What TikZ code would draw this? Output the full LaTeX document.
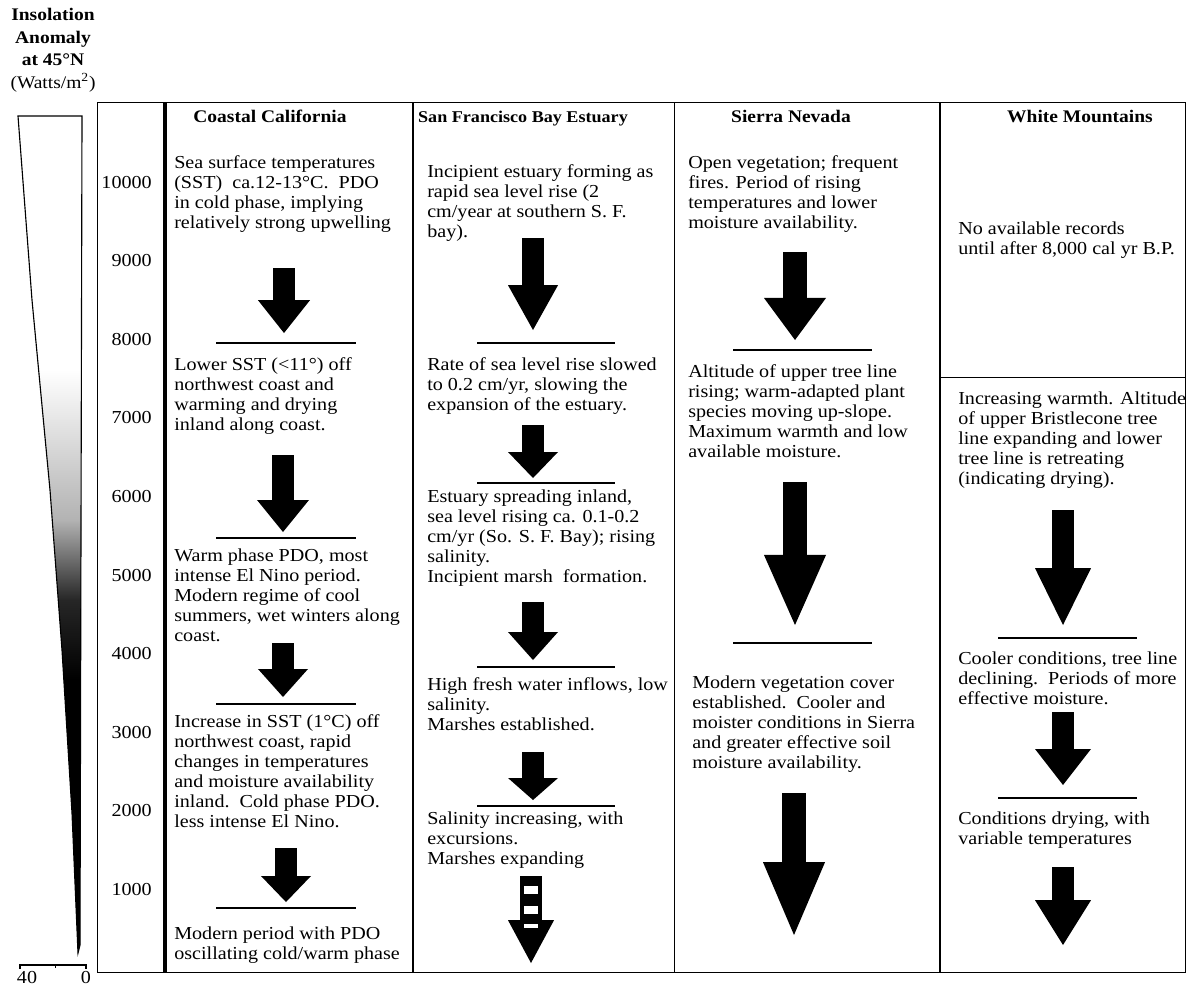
\documentclass[tikz,border=0pt]{standalone}
\usepackage{fontspec}
\setmainfont{Liberation Serif}[FakeStretch=1.1]
\usepackage{tikz}
\usetikzlibrary{arrows.meta}
\newcommand{\txt}{\fontsize{13}{14.2}\selectfont}
\newcommand{\hdr}{\fontsize{12.6}{16}\selectfont\bfseries}

\begin{document}
\begin{tikzpicture}[x=0.025cm, y=-0.025cm,
  every node/.style={inner sep=0pt, font=\txt},
  nota/.style={anchor=north west, align=left},
  titulo/.style={anchor=base, font=\hdr},
  flecha/.style 2 args={line width=0.55cm, -{Triangle[length=#1, width=#2, line width=0pt]}},
  divisor/.style={line width=1.2pt}]
\useasboundingbox (0,0) rectangle (1190,988);
% Anomalia de insolação
\node[align=center, font=\hdr] (insol) at (53,50) {Insolation\\Anomaly\\at 45°N\\{\mdseries (Watts/m\textsuperscript{2})}};
% Cunha
\begin{scope}
\clip (18,116) -- (82,116) -- (80,945) -- (78,953) -- (72,813) -- (62,650) -- (50,490) -- (32,300) -- cycle;
\shade[top color=white, bottom color=black!30] (0,370) rectangle (90,520);
\shade[top color=black!30, bottom color=black!85] (0,520) rectangle (90,600);
\shade[top color=black!85, bottom color=black] (0,600) rectangle (90,680);
\fill (0,680) rectangle (90,960);
\end{scope}
\draw[line width=0.8pt] (18,116) -- (82,116) -- (80,945) -- (78,953) -- (72,813) -- (62,650) -- (50,490) -- (32,300) -- cycle;
% Escala
\draw[line width=0.8pt] (20,969) -- (20,965) -- (86,965) -- (86,969);
\draw (55,965) -- (55,968);
\node (s40) at (27,977) {40};
\node (s0) at (86,977) {0};
% Eixo de idades
\draw[line width=0.7pt] (165,102) -- (97,102) -- (97,972) -- (165,972);
\foreach \yr in {1000,2000,...,10000}
  \node[anchor=east] (a\yr) at (152,{968-0.0786*\yr}) {\yr};
% Moldura da tabela
\draw[line width=0.7pt] (165,102) -- (1185,102) -- (1185,972) -- (165,972);
\draw[line width=2.2pt] (165,102) -- (165,972);
\draw[line width=0.9pt] (413,102) -- (413,972);
\draw[line width=0.7pt] (674,102) -- (674,972);
\draw[line width=0.9pt] (940,102) -- (940,972);
\draw[line width=0.7pt] (940,377) -- (1185,377);
% Títulos das colunas
\node[titulo] (hcc) at (270,122) {Coastal California};
\node[titulo] (hsf) at (523,122) {\fontsize{11.7}{16}\selectfont San Francisco Bay Estuary};
\node[titulo] (hsn) at (791,122) {Sierra Nevada};
\node[titulo] (hwm) at (1080,122) {White Mountains};

% Coastal California
\node[nota] (c1) at (174,155) {Sea surface temperatures\\(SST)\ \ ca.12-13°C.\ \ PDO\\in cold phase, implying\\relatively strong upwelling};
\node[nota] (c2) at (174,357) {Lower SST (<11°) off\\northwest coast and\\warming and drying\\inland along coast.};
\node[nota] (c3) at (174,549) {Warm phase PDO, most\\intense El Nino period.\\Modern regime of cool\\summers, wet winters along\\coast.};
\node[nota] (c4) at (174,714) {Increase in SST (1°C) off\\northwest coast, rapid\\changes in temperatures\\and moisture availability\\inland.\ \ Cold phase PDO.\\less intense El Nino.};
\node[nota] (c5) at (174,927) {Modern period with PDO\\oscillating cold/warm phase};
\coordinate (ca1) at (284,268); \coordinate (ca1e) at (284,333);
\coordinate (ca2) at (283,455); \coordinate (ca2e) at (283,532);
\coordinate (ca3) at (283,643); \coordinate (ca3e) at (283,697);
\coordinate (ca4) at (286,848); \coordinate (ca4e) at (286,902);
\draw[flecha={0.82cm}{1.3cm}] (ca1) -- (ca1e);
\draw[flecha={0.8cm}{1.3cm}] (ca2) -- (ca2e);
\draw[flecha={0.7cm}{1.25cm}] (ca3) -- (ca3e);
\draw[flecha={0.65cm}{1.25cm}] (ca4) -- (ca4e);
\foreach \y in {343,538,704,908}
  \draw[divisor] (216,\y) -- (356,\y);

% San Francisco Bay Estuary
\node[nota] (s1) at (427,164) {Incipient estuary forming as\\rapid sea level rise (2\\cm/year at southern S. F.\\bay).};
\node[nota] (s2) at (427,357) {Rate of sea level rise slowed\\to 0.2 cm/yr, slowing the\\expansion of the estuary.};
\node[nota] (s3) at (427,490) {Estuary spreading inland,\\sea level rising ca. 0.1-0.2\\cm/yr (So. S. F. Bay); rising\\salinity.\\Incipient marsh\ \ formation.};
\node[nota] (s4) at (427,677) {High fresh water inflows, low\\salinity.\\Marshes established.};
\node[nota] (s5) at (427,812) {Salinity increasing, with\\excursions.\\Marshes expanding};
\coordinate (sa1) at (533,238); \coordinate (sa1e) at (533,330);
\coordinate (sa2) at (533,425); \coordinate (sa2e) at (533,478);
\coordinate (sa3) at (533,602); \coordinate (sa3e) at (533,660);
\coordinate (sa4) at (533,752); \coordinate (sa4e) at (533,800);
\coordinate (sa5) at (531,876); \coordinate (sa5e) at (531,963);
\draw[flecha={1.12cm}{1.25cm}] (sa1) -- (sa1e);
\draw[flecha={0.65cm}{1.25cm}] (sa2) -- (sa2e);
\draw[flecha={0.7cm}{1.25cm}] (sa3) -- (sa3e);
\draw[flecha={0.55cm}{1.25cm}] (sa4) -- (sa4e);
\draw[flecha={1.07cm}{1.15cm}] (sa5) -- (sa5e);
% faixas brancas na última seta
\fill[white] (524,886) rectangle (538,894);
\fill[white] (524,906) rectangle (538,914);
\fill[white] (524,924) rectangle (538,928);
\foreach \y in {343,483,667,806}
  \draw[divisor] (477,\y) -- (615,\y);

% Sierra Nevada
\node[nota] (n1) at (688,155) {Open vegetation; frequent\\fires. Period of rising\\temperatures and lower\\moisture availability.};
\node[nota] (n2) at (688,364) {Altitude of upper tree line\\rising; warm-adapted plant\\species moving up-slope.\\Maximum warmth and low\\available moisture.};
\node[nota] (n3) at (692,676) {Modern vegetation cover\\established.\ \ Cooler and\\moister conditions in Sierra\\and greater effective soil\\moisture availability.};
\coordinate (na1) at (795,252); \coordinate (na1e) at (795,340);
\coordinate (na2) at (795,482); \coordinate (na2e) at (795,625);
\coordinate (na3) at (794,793); \coordinate (na3e) at (794,935);
\draw[flecha={1.05cm}{1.55cm}, line width=0.6cm] (na1) -- (na1e);
\draw[flecha={1.75cm}{1.55cm}, line width=0.6cm] (na2) -- (na2e);
\draw[flecha={1.82cm}{1.55cm}, line width=0.6cm] (na3) -- (na3e);
\foreach \y in {350,643}
  \draw[divisor] (733,\y) -- (872,\y);

% White Mountains
\node[nota] (w0) at (958,222) {No available records\\until after 8,000 cal yr B.P.};
\node[nota] (w1) at (958,392) {Increasing warmth. Altitude\\of upper Bristlecone tree\\line expanding and lower\\tree line is retreating\\(indicating drying).};
\node[nota] (w2) at (958,652) {Cooler conditions, tree line\\declining.\ \ Periods of more\\effective moisture.};
\node[nota] (w3) at (958,812) {Conditions drying, with\\variable temperatures};
\coordinate (wa1) at (1063,510); \coordinate (wa1e) at (1063,625);
\coordinate (wa2) at (1063,712); \coordinate (wa2e) at (1063,785);
\coordinate (wa3) at (1063,867); \coordinate (wa3e) at (1063,945);
\draw[flecha={1.42cm}{1.4cm}] (wa1) -- (wa1e);
\draw[flecha={0.9cm}{1.4cm}] (wa2) -- (wa2e);
\draw[flecha={1.12cm}{1.4cm}] (wa3) -- (wa3e);
\foreach \y in {638,798}
  \draw[divisor] (998,\y) -- (1137,\y);
\end{tikzpicture}
\end{document}
